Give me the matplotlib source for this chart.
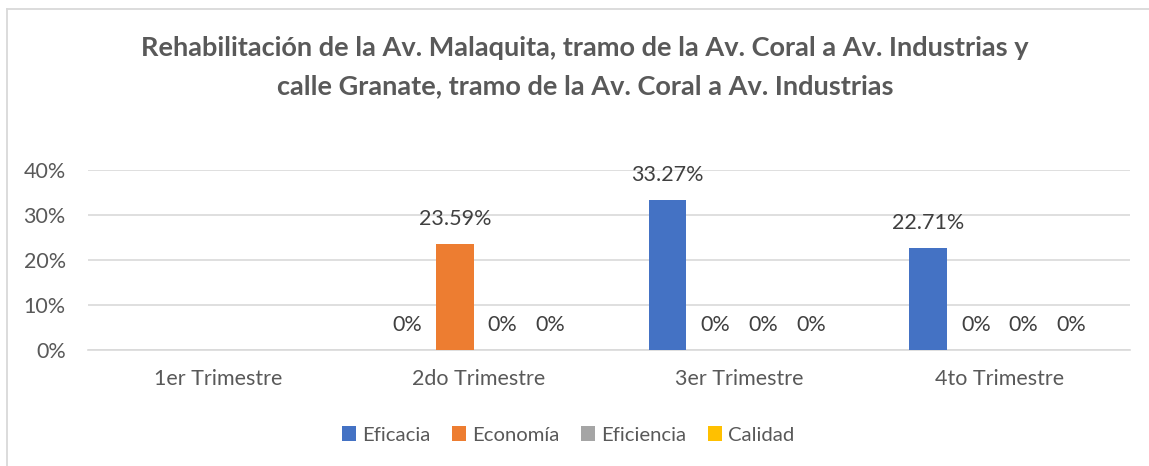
import matplotlib
matplotlib.use("Agg")
import matplotlib.pyplot as plt
from matplotlib.lines import Line2D
import numpy as np

categories = ["1er Trimestre", "2do Trimestre", "3er Trimestre", "4to Trimestre"]
series_names = ["Eficacia", "Economía", "Eficiencia", "Calidad"]
eficacia = [np.nan, 0.0, 33.27, 22.71]
economia = [np.nan, 23.59, 0.0, 0.0]
eficiencia = [np.nan, 0.0, 0.0, 0.0]
calidad = [np.nan, 0.0, 0.0, 0.0]
y_ticks = [0, 10, 20, 30, 40]

colors = ["#4472C4", "#ED7D31", "#A5A5A5", "#FFC000"]
text_color = "#595959"

plt.rcParams["font.family"] = ["Lato", "DejaVu Sans"]

W, H = 1149, 466
fig = plt.figure(figsize=(W / 100, H / 100), dpi=100)
ax = fig.add_axes([88 / W, 1 - 350 / H, (1130 - 88) / W, 180 / H])

x = np.arange(len(categories))
spacing = 0.183
width = 0.144
all_series = [eficacia, economia, eficiencia, calidad]
for i, (name, vals, c) in enumerate(zip(series_names, all_series, colors)):
    pos = x + (i - 1.5) * spacing
    v = np.array(vals, dtype=float)
    ax.bar(pos, np.nan_to_num(v), width=width, color=c, label=name, zorder=3)
    for p, val in zip(pos, v):
        if np.isnan(val):
            continue
        label = "0%" if val == 0 else f"{val:.2f}%"
        ax.annotate(label, (p, val), xytext=(0, 25), textcoords="offset pixels",
                    ha="center", va="center", fontsize=15.5, color="#404040", zorder=4)

ax.set_xlim(-0.5, 3.5)
ax.set_ylim(0, 40)
ax.set_yticks(y_ticks)
ax.set_yticklabels([f"{t}%" for t in y_ticks], fontsize=15.5, color=text_color)
ax.set_xticks(x)
ax.set_xticklabels(categories, fontsize=15.5, color=text_color)
ax.tick_params(axis="both", length=0)
ax.tick_params(axis="y", pad=16)
ax.tick_params(axis="x", pad=14)
ax.yaxis.grid(True, color="#D9D9D9", linewidth=1.2, zorder=0)
ax.set_axisbelow(True)
for s in ["top", "right", "left"]:
    ax.spines[s].set_visible(False)
ax.spines["bottom"].set_color("#D9D9D9")
ax.spines["bottom"].set_linewidth(1.2)

fig.text(585 / W, 1 - 48 / H, "Rehabilitación de la Av. Malaquita, tramo de la Av. Coral a Av. Industrias y",
         ha="center", va="center", fontsize=19.5, fontweight="bold", color=text_color)
fig.text(585 / W, 1 - 86 / H, "calle Granate, tramo de la Av. Coral a Av. Industrias",
         ha="center", va="center", fontsize=19.5, fontweight="bold", color=text_color)

leg = fig.legend(*ax.get_legend_handles_labels(), loc="center", bbox_to_anchor=(568 / W, 1 - 435 / H),
                 ncol=4, frameon=False, fontsize=14.6, handlelength=0.7, handleheight=0.7,
                 columnspacing=1.05, handletextpad=0.3)
for t in leg.get_texts():
    t.set_color(text_color)

fig.add_artist(Line2D([6.5 / W, 6.5 / W], [0, 1 - 9 / H], color="#D9D9D9", linewidth=1.3,
                      transform=fig.transFigure))
fig.add_artist(Line2D([6.5 / W, 1], [1 - 9 / H, 1 - 9 / H], color="#D9D9D9", linewidth=1.3,
                      transform=fig.transFigure))

fig.savefig("out.png", dpi=100)
